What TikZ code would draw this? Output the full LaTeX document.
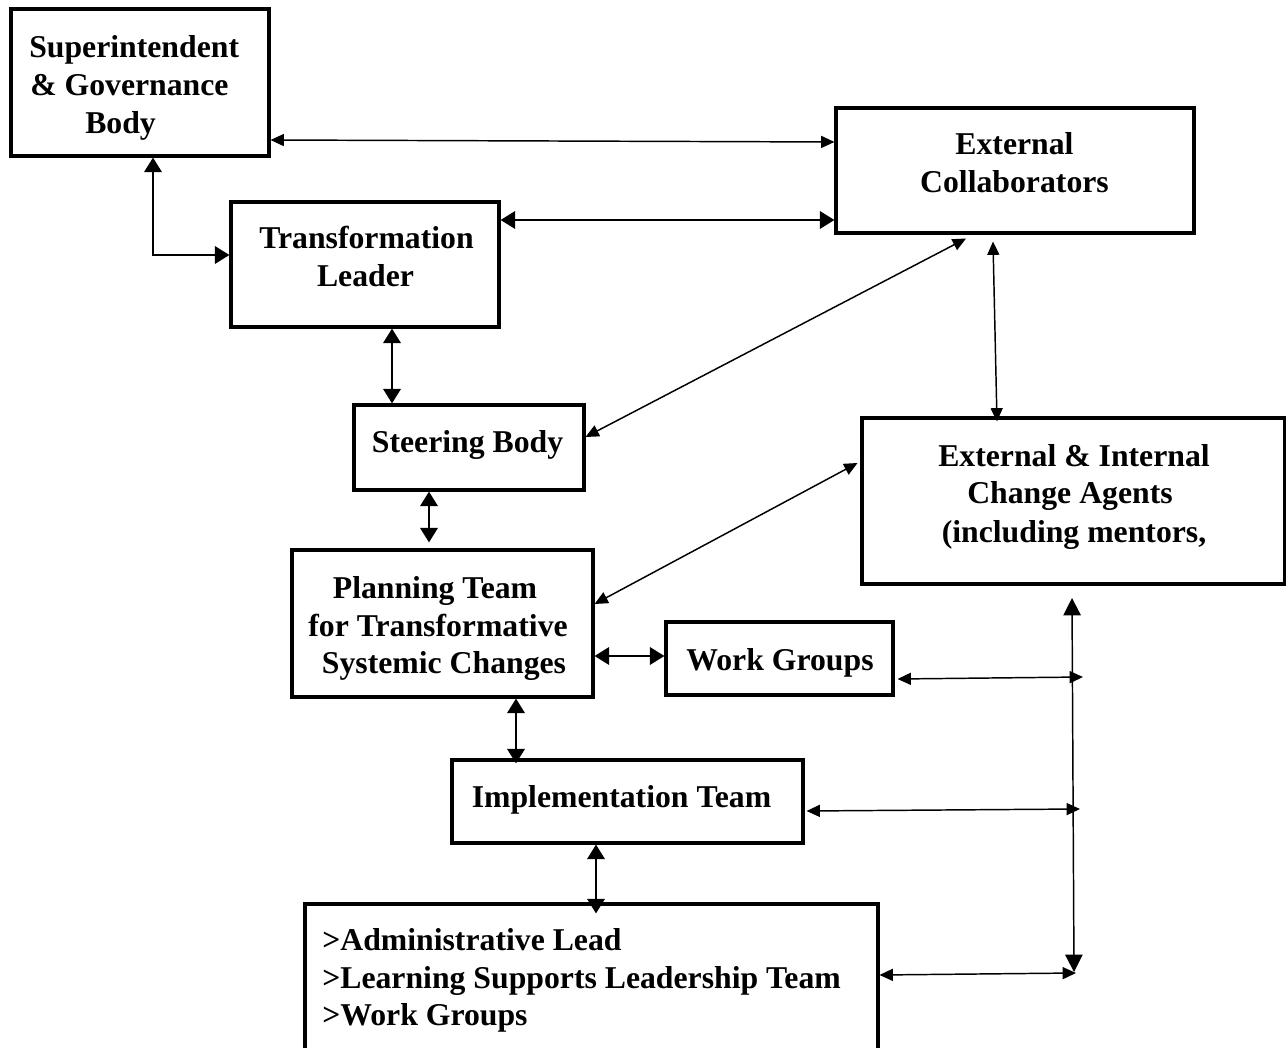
\documentclass[tikz,border=0pt]{standalone}
\usepackage{fontspec}
\setmainfont{Liberation Serif}
\usetikzlibrary{arrows.meta,fit,calc}
\begin{document}
\begin{tikzpicture}[x=0.75pt,y=-0.75pt,
  box/.style={draw,line width=2.3pt,inner sep=0pt,rectangle},
  lbl/.style={inner sep=0pt,anchor=base,font=\fontsize{23.8}{28.5}\selectfont\bfseries},
  lbll/.style={lbl,anchor=base west},
  thinarr/.style={line width=1.1pt,{Triangle[length=10pt,width=9pt]}-{Triangle[length=10pt,width=9pt]}},
  thickarr/.style={line width=2.1pt,{Triangle[length=11pt,width=13pt]}-{Triangle[length=11pt,width=13pt]}},
  busarr/.style={line width=1.1pt,{Triangle[length=13pt,width=13pt]}-{Triangle[length=13pt,width=13pt]}}]
\fill[white] (0,0) rectangle (1286,1048);
\clip (0,0) rectangle (1286,1048);

% boxes
\node[box, fit={(11,9) (269,156)}] (sup) {};
\node[box, fit={(836,108) (1194,233)}] (ec) {};
\node[box, fit={(231,202) (499,327)}] (tl) {};
\node[box, fit={(354,405) (584,490)}] (steer) {};
\node[box, fit={(862,418) (1285,584)}] (ag) {};
\node[box, fit={(292,550) (593,697)}] (plan) {};
\node[box, fit={(666,622) (893,695)}] (wg) {};
\node[box, fit={(452,760) (803,843)}] (impl) {};
\node[box, fit={(305,904) (878,1070)}] (bot) {};

% texts
\node[lbll] (sup1) at (29,58) {Superintendent};
\node[lbll] (sup2) at (30,96) {\& Governance};
\node[lbll] (sup3) at (85,134) {Body};
\node[lbl] (ec1) at (1014.5,155) {External};
\node[lbl] (ec2) at (1014.5,193) {Collaborators};
\node[lbl] (tl1) at (366.5,249) {Transformation};
\node[lbl] (tl2) at (365.5,287) {Leader};
\node[lbl] (st1) at (467.5,453) {Steering Body};
\node[lbl] (ag1) at (1074,467) {External \& Internal};
\node[lbl] (ag2) at (1070,504) {Change Agents};
\node[lbl] (ag3) at (1074,542) {(including mentors,};
\node[lbl] (pl1) at (435,598) {Planning Team};
\node[lbl] (pl2) at (438,636) {for Transformative};
\node[lbl] (pl3) at (444,673) {Systemic Changes};
\node[lbl] (wg1) at (780,670) {Work Groups};
\node[lbl] (im1) at (621.5,807) {Implementation Team};
\node[lbll] (bo1) at (322,950) {>Administrative Lead};
\node[lbll] (bo2) at (322,988) {>Learning Supports Leadership Team};
\node[lbll] (bo3) at (322,1025) {>Work Groups};

% bus coordinates
\coordinate (btop) at (1072,598);
\coordinate (bbot) at (1074,972);
\coordinate (b1) at (1083,677);
\coordinate (b2) at (1080,809);
\coordinate (b3) at (1076,973);

% connectors
\draw[thinarr] (sup.east |- 0,140) -- (ec.west |- 0,142);
\draw[thickarr] (sup.south -| 153,0) |- (tl.west |- 0,255);
\draw[thickarr] (tl.east |- 0,220) -- (ec.west |- 0,220);
\draw[thickarr] (tl.south -| 392,0) -- (steer.north -| 392,0);
\draw[thinarr] (steer.east |- 0,437) -- ($(ec.south -| 966,0)+(0,4)$);
\draw[thinarr] ($(ec.south -| 993,0)+(0,7)$) -- ($(ag.north -| 997,0)+(0,5)$);
\draw[thickarr] (steer.south -| 429,0) -- ($(plan.north -| 429,0)+(0,-6)$);
\draw[thinarr] (plan.east |- 0,604) -- ($(ag.west |- 0,463)+(-3,0)$);
\draw[thickarr] (plan.east |- 0,656) -- (wg.west |- 0,656);
\draw[thickarr] (plan.south -| 516,0) -- ($(impl.north -| 516,0)+(0,5)$);
\draw[thickarr] (impl.south -| 596,0) -- ($(bot.north -| 596,0)+(0,11)$);
\draw[busarr] (btop) -- (bbot);
\draw[thinarr] ($(wg.east |- 0,679)+(3,0)$) -- (b1);
\draw[thinarr] ($(impl.east |- 0,811)+(2,0)$) -- (b2);
\draw[thinarr] (bot.east |- 0,975) -- (b3);
\end{tikzpicture}
\end{document}
